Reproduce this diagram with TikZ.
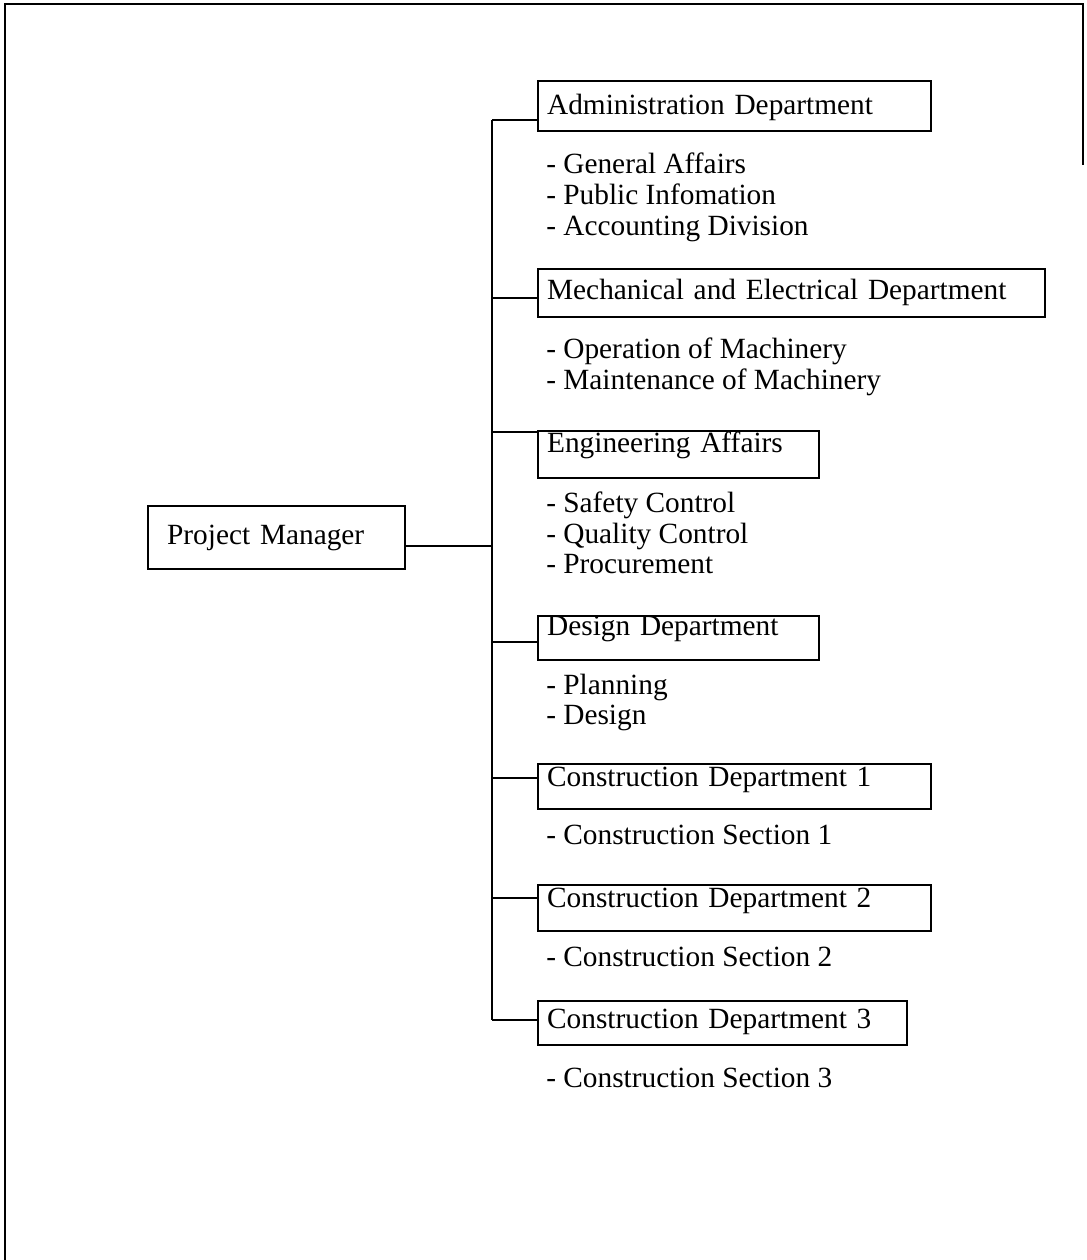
\documentclass[tikz,border=0pt]{standalone}
\usepackage{fontspec}
\setmainfont{Liberation Serif}

\tikzset{
  dept/.style={draw, line width=1.7pt, anchor=north west, align=left,
    inner xsep=6.75pt, inner ysep=0pt},
  item/.style={anchor=base west, inner sep=0pt},
  link/.style={line width=1.3pt},
}

\begin{document}
\begin{tikzpicture}[x=0.75pt, y=-0.75pt,
    every node/.style={font=\fontsize{22}{26}\selectfont}]
  \useasboundingbox (0,0) rectangle (1086,1260);

  % page frame
  \draw[line width=1.9pt] (5,1260) -- (5,4) -- (1083,4) -- (1083,165);

  % head of the chart
  \node[dept, inner xsep=14.25pt, text width=164.25pt,
        text height=28.5pt, text depth=18.75pt] (pm) at (147,505) {Project Manager};

  % departments
  \node[dept, text width=281.25pt, text height=24.75pt, text depth=12.75pt]
    (adm) at (537,80) {Administration Department};
  \node[dept, text width=366.75pt, text height=22.5pt, text depth=13.5pt]
    (mech) at (537,268) {Mechanical and Electrical Department};
  \node[dept, text width=197.25pt, text height=15.75pt, text depth=19.5pt]
    (eng) at (537,430) {Engineering Affairs};
  \node[dept, text width=197.25pt, text height=14.25pt, text depth=18.75pt]
    (des) at (537,615) {Design Department};
  \node[dept, text width=281.25pt, text height=16.5pt, text depth=17.25pt]
    (con1) at (537,763) {Construction Department 1};
  \node[dept, text width=281.25pt, text height=16.5pt, text depth=18pt]
    (con2) at (537,884) {Construction Department 2};
  \node[dept, text width=263.25pt, text height=20.25pt, text depth=12.75pt]
    (con3) at (537,1000) {Construction Department 3};

  % sections under each department
  \node[item] (adm1) at (546,173) {- General Affairs};
  \node[item] (adm2) at (546,204) {- Public Infomation};
  \node[item] (adm3) at (546,235) {- Accounting Division};

  \node[item] (mech1) at (546,358) {- Operation of Machinery};
  \node[item] (mech2) at (546,389) {- Maintenance of Machinery};

  \node[item] (eng1) at (546,512) {- Safety Control};
  \node[item] (eng2) at (546,543) {- Quality Control};
  \node[item] (eng3) at (546,573) {- Procurement};

  \node[item] (des1) at (546,694) {- Planning};
  \node[item] (des2) at (546,724) {- Design};

  \node[item] (con1a) at (546,844) {- Construction Section 1};
  \node[item] (con2a) at (546,966) {- Construction Section 2};
  \node[item] (con3a) at (546,1087) {- Construction Section 3};

  % trunk and branches
  \coordinate (jadm)  at (492,120);
  \coordinate (jmech) at (492,298);
  \coordinate (jeng)  at (492,432);
  \coordinate (jpm)   at (492,546);
  \coordinate (jdes)  at (492,642);
  \coordinate (jcon1) at (492,778);
  \coordinate (jcon2) at (492,898);
  \coordinate (jcon3) at (492,1020);

  \draw[link, line width=1.8pt] (jadm) -- (jcon3);
  \draw[link] (jpm -| pm.east) -- (jpm);
  \draw[link] (jadm) -- (jadm -| adm.west);
  \draw[link] (jmech) -- (jmech -| mech.west);
  \draw[link] (jeng) -- (jeng -| eng.west);
  \draw[link] (jdes) -- (jdes -| des.west);
  \draw[link] (jcon1) -- (jcon1 -| con1.west);
  \draw[link] (jcon2) -- (jcon2 -| con2.west);
  \draw[link] (jcon3) -- (jcon3 -| con3.west);

\end{tikzpicture}
\end{document}
